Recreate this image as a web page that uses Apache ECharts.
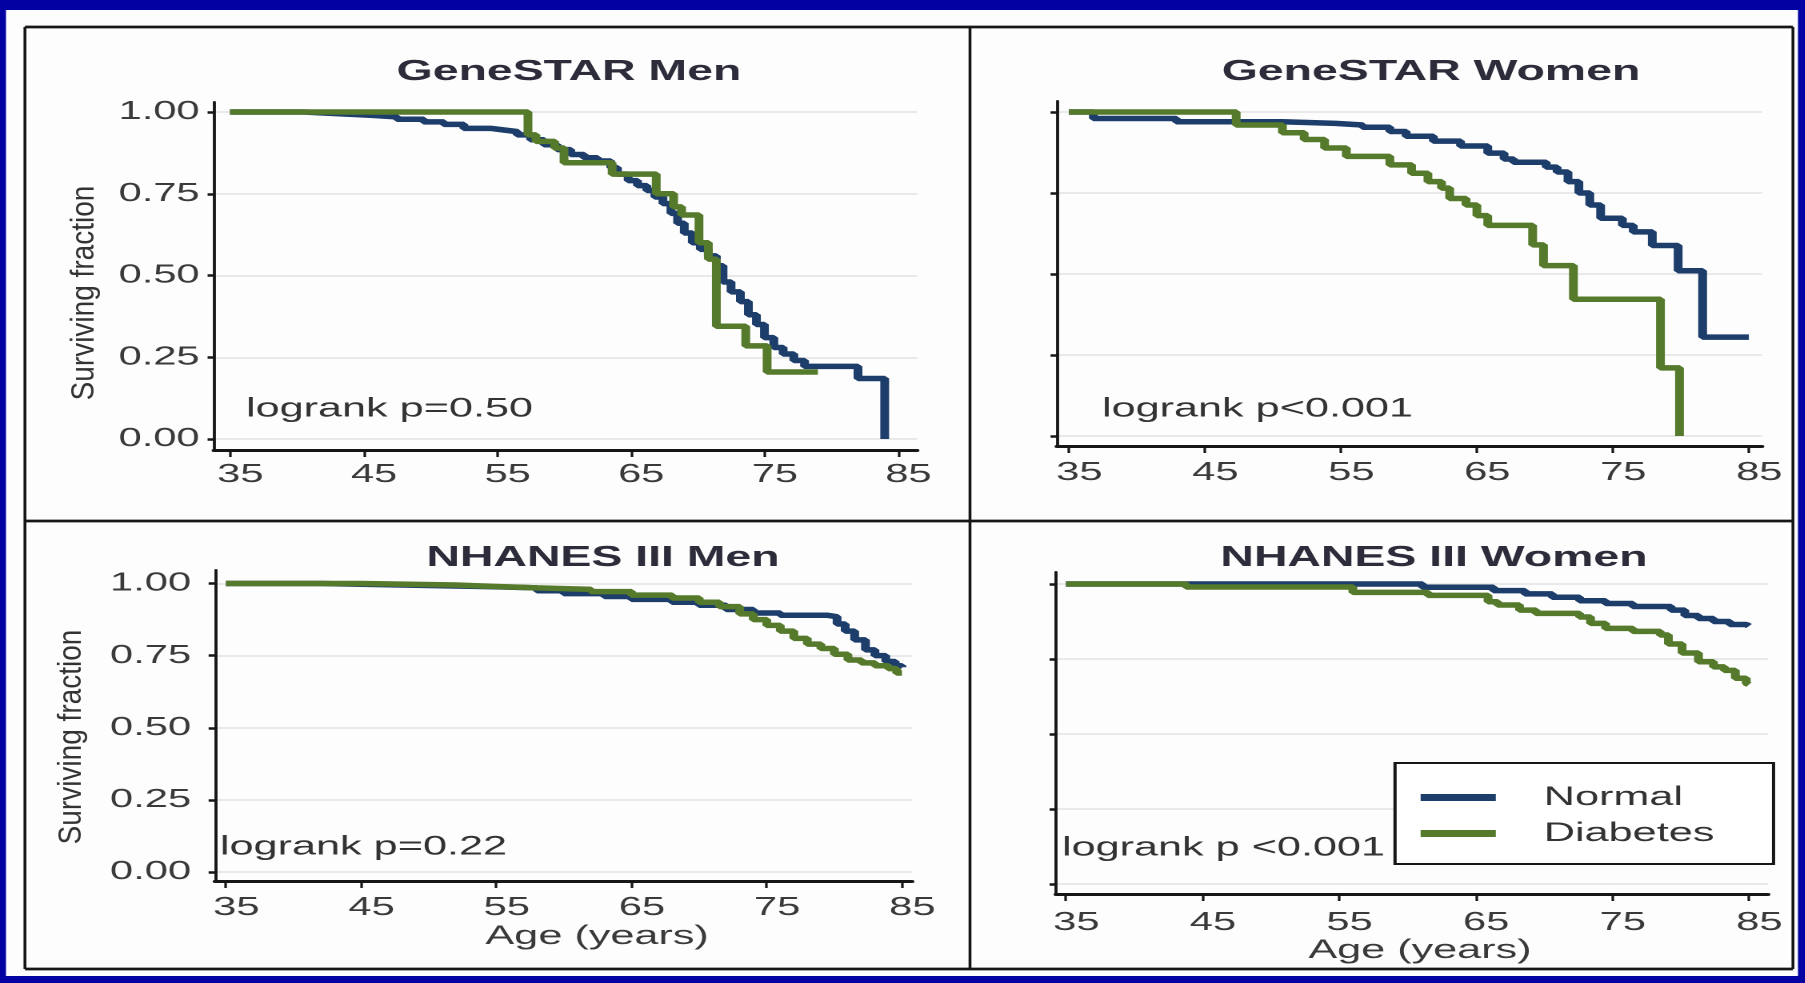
<!DOCTYPE html>
<html>
<head>
<meta charset="utf-8">
<script src="https://cdn.jsdelivr.net/npm/echarts@6/dist/echarts.min.js"></script>
<style>
html,body{margin:0;padding:0;background:#0202a2;overflow:hidden;width:1805px;height:983px;}
#chart{position:absolute;left:0;top:0;width:1128.125px;height:983px;transform:scaleX(1.6);transform-origin:0 0;}
</style>
</head>
<body>
<div id="chart"></div>
<script>
// ---------- data ----------
const ageTicks = [35, 45, 55, 65, 75, 85];
const survTicks = [0, 0.25, 0.5, 0.75, 1];
const groups = ['Normal', 'Diabetes'];
const panelTitles = ['GeneSTAR Men', 'GeneSTAR Women', 'NHANES III Men', 'NHANES III Women'];
const logrankTexts = ['logrank p=0.50', 'logrank p<0.001', 'logrank p=0.22', 'logrank p <0.001'];
const yTitle = 'Surviving fraction';
const xTitle = 'Age (years)';

// [age, surviving fraction]
const gsMenNormal = [[35,1.00],[40.5,0.995],[43,0.99],[45.5,0.985],[47.5,0.978],[49.5,0.97],[51,0.962],[52.5,0.95],[54.5,0.945],[55.5,0.94],[56.5,0.93],[57.5,0.915],[58.5,0.90],[59.5,0.885],[60.5,0.87],[61.5,0.86],[62.5,0.85],[63.5,0.83],[64,0.81],[64.8,0.79],[65.5,0.775],[66.2,0.76],[66.8,0.74],[67.4,0.72],[68,0.69],[68.5,0.66],[69,0.63],[69.6,0.60],[70.2,0.58],[70.8,0.56],[71.4,0.53],[71.9,0.48],[72.5,0.45],[73.2,0.42],[73.8,0.38],[74.4,0.35],[75,0.31],[75.7,0.28],[76.4,0.26],[77.2,0.24],[78,0.222],[82,0.185],[84,0.0]];
const gsMenDiab = [[35,1.00],[57.3,0.93],[57.9,0.91],[59.3,0.89],[60,0.845],[63.6,0.81],[66.9,0.75],[68.2,0.71],[68.8,0.685],[70.1,0.60],[70.8,0.55],[71.4,0.345],[73.6,0.285],[75.2,0.205],[79,0.205]];
const gsWomenNormal = [[35,1.00],[36.8,0.98],[42.9,0.97],[50.7,0.965],[54.6,0.96],[56.6,0.953],[58.6,0.94],[59.8,0.925],[61.8,0.91],[63.8,0.895],[65.8,0.873],[67,0.855],[67.7,0.845],[70.1,0.83],[70.9,0.815],[71.7,0.785],[72.5,0.75],[73.3,0.713],[74.1,0.672],[75.7,0.65],[76.5,0.63],[77.9,0.588],[79.8,0.51],[81.6,0.305],[85,0.305]];
const gsWomenDiab = [[35,1.00],[47.3,0.96],[50.7,0.936],[52.3,0.915],[53.8,0.889],[55.4,0.863],[58.6,0.837],[60.2,0.811],[61.4,0.785],[62.4,0.765],[63,0.733],[64.2,0.713],[65,0.68],[65.8,0.65],[69.1,0.59],[69.9,0.526],[72.1,0.422],[78.5,0.21],[79.9,0.0]];
const nhMenNormal = [[35,1.00],[42,0.995],[48,0.99],[54,0.985],[58,0.975],[60,0.965],[63,0.955],[65,0.945],[68,0.935],[70,0.925],[72,0.91],[74,0.898],[76,0.89],[79.5,0.885],[80.2,0.86],[80.8,0.835],[81.5,0.805],[82.3,0.77],[83,0.75],[83.8,0.73],[84.5,0.715],[85,0.71]];
const nhMenDiab = [[35,1.00],[45,0.995],[52,0.99],[55,0.985],[58,0.98],[62,0.972],[65,0.96],[68,0.95],[70,0.935],[71.5,0.92],[73,0.895],[74,0.875],[75,0.855],[76,0.835],[77,0.81],[78,0.79],[79,0.775],[80,0.755],[81,0.735],[82,0.725],[83,0.715],[84,0.705],[84.6,0.69],[85,0.69]];
const nhWomenNormal = [[35,1.00],[61.1,0.989],[66.3,0.978],[68.6,0.967],[70.6,0.956],[72.6,0.944],[74.5,0.935],[76.5,0.925],[79.3,0.913],[80.3,0.895],[81.3,0.885],[82.4,0.875],[83.6,0.865],[84.8,0.86],[85,0.86]];
const nhWomenDiab = [[35,1.00],[43.8,0.99],[56,0.972],[61.5,0.962],[65.9,0.941],[66.6,0.93],[68.2,0.913],[69.4,0.902],[72.6,0.89],[73.4,0.869],[74.5,0.852],[76.5,0.842],[78.5,0.83],[79.1,0.80],[80.1,0.77],[81.3,0.741],[82.4,0.724],[83.2,0.712],[84,0.686],[84.8,0.669],[85,0.665]];

const panelData = [
  [gsMenNormal, gsMenDiab],
  [gsWomenNormal, gsWomenDiab],
  [nhMenNormal, nhMenDiab],
  [nhWomenNormal, nhWomenDiab]
];

// ---------- layout (chart units; page is stretched horizontally by SX) ----------
const SX = 1.6;
const FONT = "'Liberation Sans', Arial, sans-serif";
const COLORS = ['#1d3d6b', '#567a2b'];
const INK = '#161616';
const layout = [
  {left:133.75, top:102, width:439.4, height:348, xr:[33.80,86.42], yr:[-0.0336,1.0306], yLab:true, yMar:9, xMar:12, xName:false,
   title:[355.6,72], lr:[153.75,409], yt:[53,293]},
  {left:660.6, top:101, width:440.6, height:345, xr:[34.12,85.96], yr:[-0.031,1.034], yLab:false, yMar:9, xMar:14, xName:false,
   title:[894.4,72], lr:[688.75,409]},
  {left:134.4, top:570, width:435.6, height:311, xr:[34.19,85.74], yr:[-0.031,1.047], yLab:true, yMar:15, xMar:14, xName:true, xNamePad:42,
   title:[376.9,558], lr:[137.5,847], yt:[45,737]},
  {left:660, top:572, width:445, height:322, xr:[34.27,86.39], yr:[-0.033,1.04], yLab:false, yMar:9, xMar:16, xName:true, xNamePad:10,
   title:[896.25,558], lr:[663.75,848]}
];

const grid = [], xAxis = [], yAxis = [], series = [], graphic = [];

// page background and frame
graphic.push({type:'rect', z:-100, silent:true, shape:{x:3.75, y:10, width:1120, height:966}, style:{fill:'#fdfdfd'}});
const hLines = [[15.6,27,1120.6,27],[15.6,521,1120.6,521],[15.6,969,1120.6,969]];
const vLines = [[15.6,27,15.6,969],[606.25,27,606.25,969],[1120.6,27,1120.6,969]];
hLines.forEach(l => graphic.push({type:'line', silent:true, shape:{x1:l[0],y1:l[1],x2:l[2],y2:l[3]}, style:{stroke:INK, lineWidth:2.8}}));
vLines.forEach(l => graphic.push({type:'line', silent:true, shape:{x1:l[0],y1:l[1],x2:l[2],y2:l[3]}, style:{stroke:INK, lineWidth:1.8}}));

layout.forEach((p, i) => {
  grid.push({left:p.left, top:p.top, width:p.width, height:p.height});
  xAxis.push({
    type:'value', gridIndex:i, min:p.xr[0], max:p.xr[1],
    axisLine:{show:true, onZero:false, lineStyle:{color:INK, width:3}},
    axisTick:{show:true, customValues:ageTicks, length:7, lineStyle:{color:INK, width:1.6}},
    axisLabel:{show:true, customValues:ageTicks, margin:p.xMar, fontSize:26, color:'#3a3a3a', fontFamily:FONT, padding:[0,0,0,13]},
    splitLine:{show:false},
    name: p.xName ? xTitle : '', nameLocation:'middle', nameGap:42,
    nameTextStyle:{fontSize:27, color:'#3a3a3a', fontFamily:FONT, padding:[0,0,0,p.xNamePad || 0]}
  });
  yAxis.push({
    type:'value', gridIndex:i, min:p.yr[0], max:p.yr[1],
    axisLine:{show:true, onZero:false, lineStyle:{color:INK, width:1.9}},
    axisTick:{show:true, customValues:survTicks, length:4, lineStyle:{color:INK, width:2.5}},
    axisLabel:{show:p.yLab, customValues:survTicks, margin:p.yMar, fontSize:26, color:'#3a3a3a', fontFamily:FONT,
      formatter: v => Number(v).toFixed(2)},
    splitLine:{show:true, lineStyle:{color:'#e3e3e3', width:1.5}}
  });
  groups.forEach((g, k) => {
    series.push({
      type:'line', name:g, xAxisIndex:i, yAxisIndex:i, data:panelData[i][k],
      step:'end', symbol:'none', showSymbol:false, z:3 + k,
      lineStyle:{color:COLORS[k], width:5.5}, itemStyle:{color:COLORS[k]}
    });
  });
  graphic.push({type:'text', silent:true, x:p.title[0], y:p.title[1],
    style:{text:panelTitles[i], font:"bold 29px " + FONT, fill:'#2c2c3a', textAlign:'center', textVerticalAlign:'middle'}});
  graphic.push({type:'text', silent:true, x:p.lr[0], y:p.lr[1],
    style:{text:logrankTexts[i], font:"27px " + FONT, fill:'#333333', textAlign:'left', textVerticalAlign:'middle'}});
  if (p.yt) {
    graphic.push({type:'text', silent:true, x:p.yt[0], y:p.yt[1], rotation:Math.PI/2, scaleY:0.72,
      style:{text:yTitle, font:"28px " + FONT, fill:'#333333', textAlign:'center', textVerticalAlign:'middle'}});
  }
});

const chart = echarts.init(document.getElementById('chart'), null, {renderer:'canvas', devicePixelRatio:2});
chart.setOption({
  animation:false,
  backgroundColor:'#0202a2',
  grid, xAxis, yAxis, series, graphic,
  legend:{
    data:groups, orient:'vertical', left:871.9, top:763,
    padding:[21,37,17,16], itemGap:9, itemWidth:47, itemHeight:7, icon:'rect',
    backgroundColor:'#ffffff', borderColor:INK, borderWidth:2,
    textStyle:{fontSize:27, color:'#333333', fontFamily:FONT, padding:[0,0,0,25]},
    selectedMode:false
  }
});
</script>
</body>
</html>
